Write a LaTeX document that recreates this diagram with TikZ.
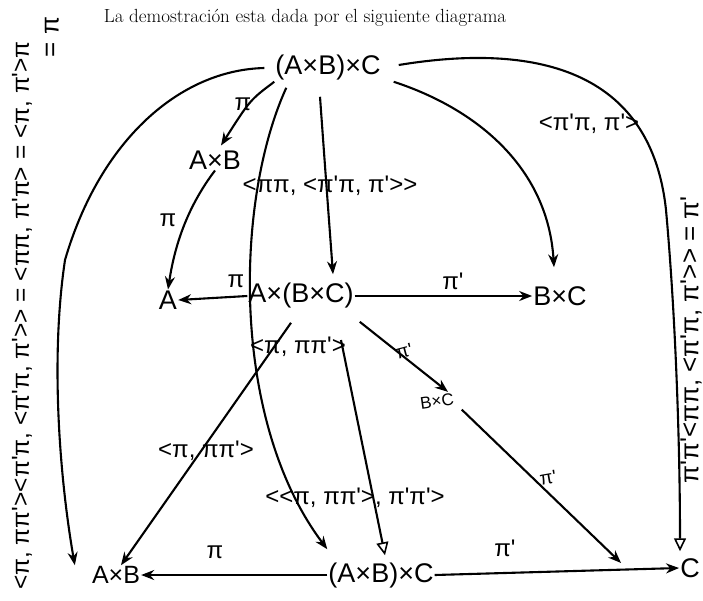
\documentclass[tikz,border=0pt]{standalone}
\usepackage{fontspec}
\newfontfamily\hand{Liberation Sans}
\usetikzlibrary{arrows.meta}
\tikzset{
  obj/.style={font=\hand\fontsize{27}{30}\selectfont, inner sep=1pt},
  objs/.style={font=\hand\fontsize{17}{19}\selectfont, inner sep=1pt},
  lbl/.style={font=\hand\fontsize{24}{28}\selectfont, inner sep=0pt},
  lbls/.style={font=\hand\fontsize{19}{22}\selectfont, inner sep=0pt},
  side/.style={font=\hand\fontsize{26}{30}\selectfont, inner sep=0pt},
  arr/.style={-{Stealth[length=13pt,width=10pt]}, line width=2.1pt},
  tri/.style={-{Triangle[open,length=13pt,width=12pt,line width=1.6pt]}, line width=2.1pt},
}
\begin{document}
\begin{tikzpicture}[x=1pt,y=-1pt]
\useasboundingbox (0,0) rectangle (703,600);
\node[font=\fontsize{19}{22}\selectfont, inner sep=0pt] (title) at (305,18) {La demostración esta dada por el siguiente diagrama};
% objects
\node[obj] (T) at (328,68) {(A×B)×C};
\node[obj] (AB1) at (215,160) {A×B};
\node[obj] (A) at (168,300) {A};
\node[obj] (M) at (301,296) {A×(B×C)};
\node[obj] (BC1) at (560,296) {B×C};
\node[objs, rotate=8] (BC2) at (437,401) {B×C};
\node[obj, font=\hand\fontsize{25}{28}\selectfont] (AB2) at (116,575) {A×B};
\node[obj] (Bot) at (381,575) {(A×B)×C};
\node[obj] (C) at (690,568) {C};
% connectors
\draw[arr] (T.south west) .. controls (250,100) .. ([shift={(6,-4)}]AB1.north);
\draw[arr] (AB1.south) .. controls (185,210) and (174,250) .. (A.north);
\draw[arr] (M.west) -- (A.east);
\draw[arr] (M.east) -- (BC1.west);
\draw[arr] ([shift={(-8,15)}]T.south) .. controls (326,180) .. ([shift={(32,-8)}]M.north);
\draw[arr] ([shift={(12,0)}]T.south east) .. controls (480,110) and (548,170) .. ([shift={(-6,-18)}]BC1.north);
\draw[arr] ([shift={(12,6)}]T.south west) .. controls (235,200) and (230,420) .. ([shift={(0,-12)}]Bot.north west);
\draw[tri] ([shift={(40,44)}]M.center) -- ([shift={(4,-6)}]Bot.north);
\draw[arr] ([shift={(-10,13)}]M.south) -- ([shift={(5,0)}]AB2.north);
\draw[arr] ([shift={(5,12)}]M.south east) -- ([shift={(12,-2)}]BC2.north);
\draw[arr] ([shift={(6,4)}]BC2.south east) -- ([shift={(-58,-5)}]C.west);
\draw[arr] (Bot.west) -- (AB2.east);
\draw[arr] (Bot.east) -- (C.west);
\draw[tri] ([shift={(17,-3)}]T.east) .. controls (520,45) and (650,60) .. (666,210) .. controls (676,320) and (680,450) .. ([shift={(-10,-6)}]C.north);
\draw[arr] ([shift={(-10,0)}]T.west) .. controls (180,70) and (100,140) .. (65,260) .. controls (50,360) and (60,480) .. ([shift={(-16,0)}]AB2.north west);
% labels
\node[lbl] (l1) at (243,104) {π};
\node[lbl] (l2) at (168,220) {π};
\node[lbl] (l3) at (236,281) {π};
\node[lbl] (l4) at (453,281) {π'};
\node[lbl] (l5) at (330,186) {<ππ, <π'π, π'>>};
\node[lbl] (l6) at (589,124) {<π'π, π'>};
\node[lbl] (l7) at (298,347) {<π, ππ'>};
\node[lbl] (l8) at (206,451) {<π,  ππ'>};
\node[lbl] (l9) at (355,498) {<<π, ππ'>, π'π'>};
\node[lbls, rotate=15] (l10) at (404,351) {π'};
\node[lbls, rotate=10] (l11) at (548,478) {π'};
\node[lbl] (l12) at (215,552) {π};
\node[lbl] (l13) at (505,548) {π'};
\node[side, rotate=90] (l14) at (691,340) {π'π'<ππ, <π'π, π'>> = π'};
\node[side, font=\hand\fontsize{24.5}{28}\selectfont, rotate=90, anchor=west] (l15) at (22,590) {<π, ππ'><π'π, <π'π, π'>> = <ππ, π'π> = <π, π'>π};
\node[side, rotate=90] (l16) at (52,37) {= π};
\end{tikzpicture}
\end{document}
